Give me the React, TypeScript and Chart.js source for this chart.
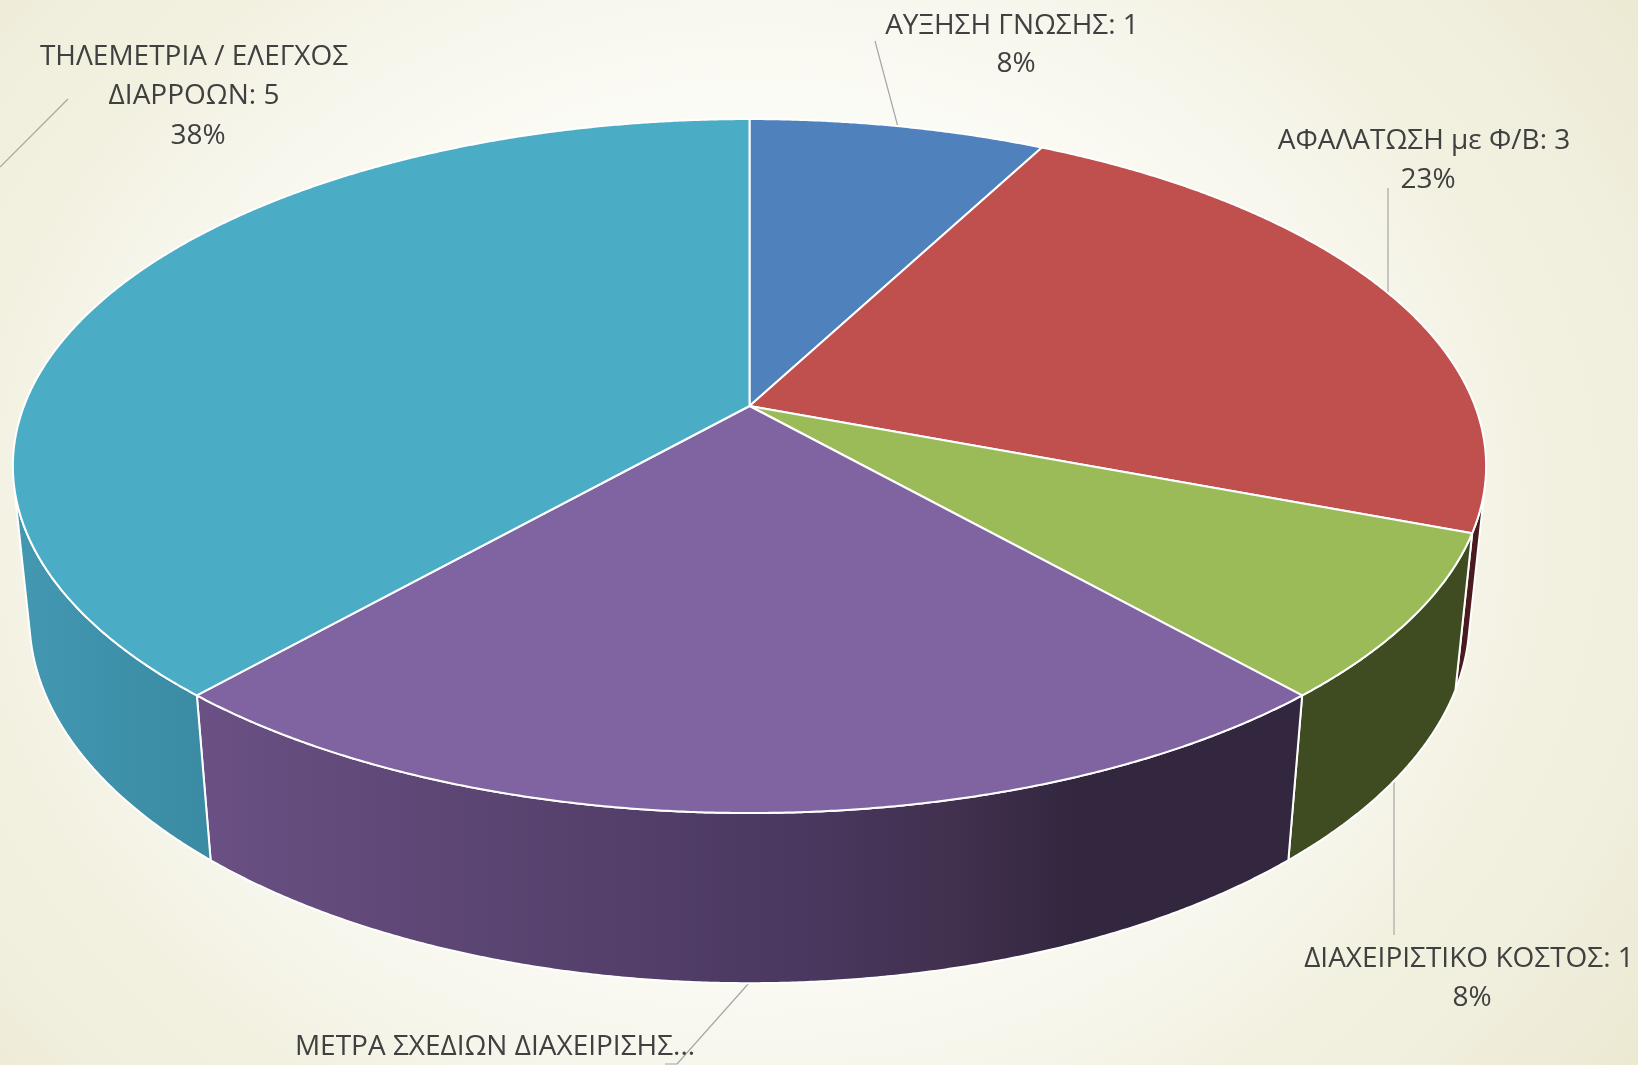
import React, { useEffect, useRef } from "react";
import { Chart, registerables } from "chart.js";

Chart.register(...registerables);

const categories = [
  "ΑΥΞΗΣΗ ΓΝΩΣΗΣ",
  "ΑΦΑΛΑΤΩΣΗ με Φ/Β",
  "ΔΙΑΧΕΙΡΙΣΤΙΚΟ ΚΟΣΤΟΣ",
  "ΜΕΤΡΑ ΣΧΕΔΙΩΝ ΔΙΑΧΕΙΡΙΣΗΣ",
  "ΤΗΛΕΜΕΤΡΙΑ / ΕΛΕΓΧΟΣ ΔΙΑΡΡΟΩΝ",
];
const values = [1, 3, 1, 3, 5];
const topColors = ["#4F81BD", "#C0504D", "#9BBB59", "#8064A2", "#4BACC6"];
const labelLines = [
  ["ΑΥΞΗΣΗ ΓΝΩΣΗΣ: 1", "8%"],
  ["ΑΦΑΛΑΤΩΣΗ με Φ/Β: 3", "23%"],
  ["ΔΙΑΧΕΙΡΙΣΤΙΚΟ ΚΟΣΤΟΣ: 1", "8%"],
  ["ΜΕΤΡΑ ΣΧΕΔΙΩΝ ΔΙΑΧΕΙΡΙΣΗΣ..."],
  ["ΤΗΛΕΜΕΤΡΙΑ / ΕΛΕΓΧΟΣ", "ΔΙΑΡΡΟΩΝ: 5", "38%"],
];

// [x, y] of every label line, per slice
const labelAnchors = [
  [[1012, 26], [1016, 64]],
  [[1424, 141], [1428, 180]],
  [[1469, 959], [1472, 998]],
  [[495, 1047]],
  [[194, 57], [194, 96], [198, 136]],
];
const leaders = [
  [[875, 41], [898, 127]],
  [[1388, 188], [1388, 296]],
  [[1394, 778], [1394, 935]],
  [[749, 983], [677, 1064], [665, 1064]],
  [[68, 99], [0, 167]],
];
// wall shading stops [x, colour] per slice
const wallStops = [
  [[0, "#2c4a70"], [1638, "#2c4a70"]],
  [[0, "#4b1a1e"], [1638, "#4b1a1e"]],
  [[0, "#3f4b21"], [1638, "#3f4b21"]],
  [[200, "#6a5084"], [500, "#5a4471"], [800, "#4a3860"], [950, "#42304f"], [1080, "#32273f"], [1300, "#32273f"]],
  [[0, "#4499b2"], [215, "#3a8aa3"]],
];

const W = 1638;
const H = 1065;
const CX = 749.5;
const CY = 406;
const RX = 725.5;
const RY = 336.6;
const PERSP = 0.173;
const DEPTH_W = 0.0223;
const DEPTH_Y = 153.6;

function project(theta: number, r: number, lower: boolean): [number, number] {
  const u = Math.sin(theta) * r;
  const v = -Math.cos(theta) * r;
  const w = 1 - PERSP * v + (lower ? DEPTH_W : 0);
  return [CX + (RX * u) / w, CY + (RY * v + (lower ? DEPTH_Y : 0)) / w];
}

const pie3d = {
  id: "pie3d",
  beforeDatasetDraw() {
    return false;
  },
  afterDatasetsDraw(chart: any) {
    const ctx: CanvasRenderingContext2D = chart.ctx;
    const arcs = chart.getDatasetMeta(0).data;
    const STEP = Math.PI / 720;
    ctx.save();
    ctx.lineJoin = "round";

    // leader lines lie behind the pie
    ctx.strokeStyle = "#a6a6a6";
    ctx.lineWidth = 1.2;
    leaders.forEach((pts) => {
      ctx.beginPath();
      pts.forEach(([x, y], i) => (i ? ctx.lineTo(x, y) : ctx.moveTo(x, y)));
      ctx.stroke();
    });

    const ranges = arcs.map((arc: any) => ({
      a: arc.startAngle + Math.PI / 2,
      b: arc.endAngle + Math.PI / 2,
      color: arc.options.backgroundColor,
    }));

    // walls: only the front-facing part of each rim
    ranges.forEach((s: any, i: number) => {
      const n = Math.ceil((s.b - s.a) / STEP);
      const visible: number[] = [];
      for (let k = 0; k <= n; k++) {
        const t = s.a + ((s.b - s.a) * k) / n;
        const p = project(t, 1, false);
        const q = project(t + 0.001, 1, false);
        const d = project(t, 1, true);
        const cross = (q[0] - p[0]) * (d[1] - p[1]) - (q[1] - p[1]) * (d[0] - p[0]);
        if (cross < 0) visible.push(t);
      }
      if (visible.length < 2) return;
      const stops = wallStops[i];
      const x0 = stops[0][0] as number;
      const x1 = stops[stops.length - 1][0] as number;
      const grad = ctx.createLinearGradient(x0, 0, x1, 0);
      stops.forEach(([x, c]) => grad.addColorStop(((x as number) - x0) / (x1 - x0), c as string));
      ctx.beginPath();
      visible.forEach((t, k) => {
        const p = project(t, 1, false);
        k ? ctx.lineTo(p[0], p[1]) : ctx.moveTo(p[0], p[1]);
      });
      [...visible].reverse().forEach((t) => {
        const p = project(t, 1, true);
        ctx.lineTo(p[0], p[1]);
      });
      ctx.closePath();
      ctx.fillStyle = grad;
      ctx.fill();
      ctx.strokeStyle = "#ffffff";
      ctx.lineWidth = 2;
      ctx.stroke();
    });

    // top faces
    ranges.forEach((s: any) => {
      const n = Math.ceil((s.b - s.a) / STEP);
      ctx.beginPath();
      ctx.moveTo(CX, CY);
      for (let k = 0; k <= n; k++) {
        const p = project(s.a + ((s.b - s.a) * k) / n, 1, false);
        ctx.lineTo(p[0], p[1]);
      }
      ctx.closePath();
      ctx.fillStyle = s.color;
      ctx.fill();
      ctx.strokeStyle = "#ffffff";
      ctx.lineWidth = 2;
      ctx.stroke();
    });

    // data labels
    ctx.fillStyle = "#404040";
    ctx.font = '28px "Open Sans"';
    ctx.textAlign = "center";
    ctx.textBaseline = "middle";
    labelLines.forEach((lines, i) => {
      lines.forEach((text, j) => {
        const [x, y] = labelAnchors[i][j];
        ctx.fillText(text, x, y);
      });
    });
    ctx.restore();
  },
};

export default function App() {
  const ref = useRef<HTMLCanvasElement>(null);
  useEffect(() => {
    const chart = new Chart(ref.current as HTMLCanvasElement, {
      type: "pie",
      data: {
        labels: categories,
        datasets: [{ data: values, backgroundColor: topColors, borderWidth: 0 }],
      },
      options: {
        animation: false,
        responsive: false,
        plugins: { legend: { display: false }, tooltip: { enabled: false } },
      },
      plugins: [pie3d],
    } as any);
    return () => chart.destroy();
  }, []);
  return (
    <div
      style={{
        position: "fixed",
        left: 0,
        top: 0,
        width: W,
        height: H,
        overflow: "hidden",
        background:
          "radial-gradient(ellipse 1000px 850px at 760px 520px, #fdfdfa 0%, #fbfbf5 50%, #f6f5ea 69%, #f2f0df 80%, #f1efde 88%, #eeecd8 100%, #ece9d1 109%)",
      }}
    >
      <canvas ref={ref} width={W} height={H} style={{ display: "block", width: W, height: H }} />
    </div>
  );
}
